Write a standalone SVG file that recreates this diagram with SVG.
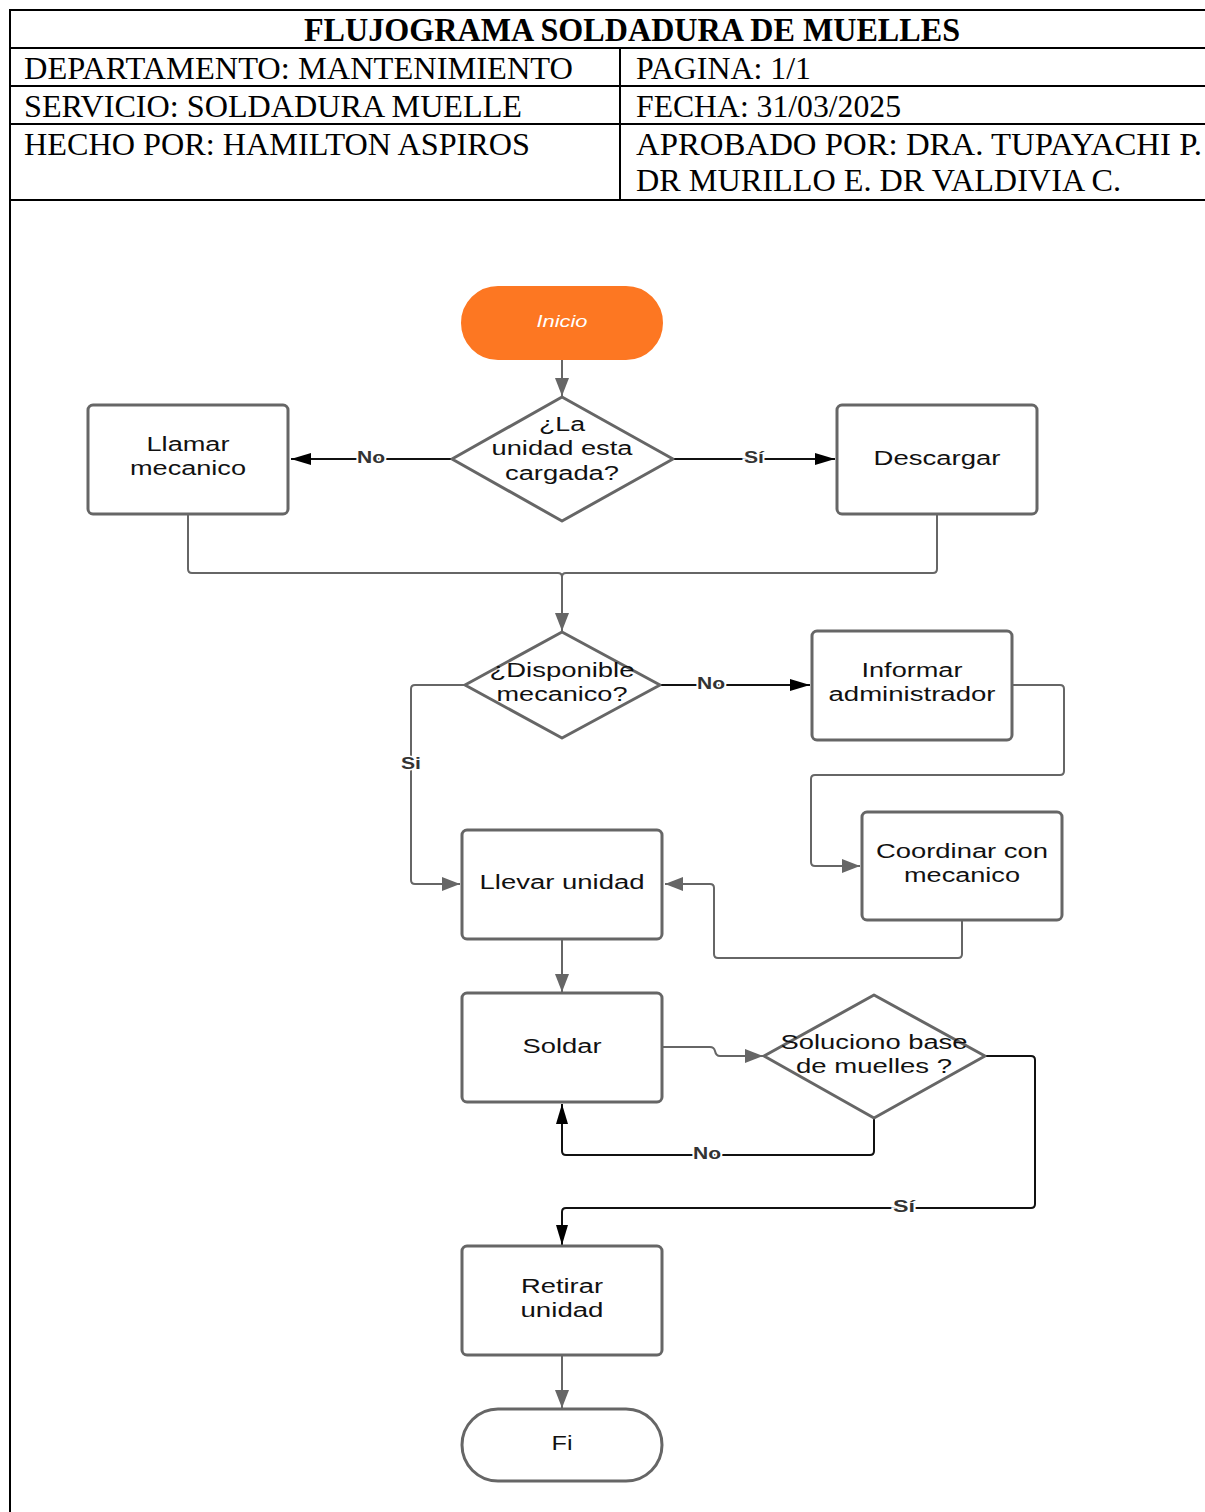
<svg xmlns="http://www.w3.org/2000/svg" width="1205" height="1512" viewBox="0 0 1205 1512">
<style>
.hdr{font-family:"Liberation Serif","Times New Roman",serif;font-size:32px;fill:#000}
.ttl{font-family:"Liberation Serif","Times New Roman",serif;font-size:33px;font-weight:bold;fill:#000}
.tbl{stroke:#000;stroke-width:2;fill:none}
.node{fill:#fff;stroke:#666;stroke-width:3}
.nt{font-family:"Liberation Sans",Arial,sans-serif;font-size:20px;fill:#111;text-anchor:middle}
.c{fill:none;stroke:#666;stroke-width:2}
.cb{fill:none;stroke:#111;stroke-width:2}
.lbl{font-family:"Liberation Sans",Arial,sans-serif;font-size:16px;font-weight:bold;fill:#333;text-anchor:middle;stroke:#fff;stroke-width:3;paint-order:stroke}
</style>
<defs>
<marker id="ag" markerUnits="userSpaceOnUse" markerWidth="20" markerHeight="16" refX="18" refY="8" orient="auto"><path d="M0,1 L18,8 L0,15 Z" fill="#666"/></marker>
<marker id="ab" markerUnits="userSpaceOnUse" markerWidth="22" markerHeight="16" refX="20" refY="8" orient="auto"><path d="M0,2 L20,8 L0,14 Z" fill="#000"/></marker>
</defs>
<rect width="1205" height="1512" fill="#fff"/>
<g id="header">
<line class="tbl" x1="10" y1="10" x2="1205" y2="10"/>
<line class="tbl" x1="10" y1="48" x2="1205" y2="48"/>
<line class="tbl" x1="10" y1="86" x2="1205" y2="86"/>
<line class="tbl" x1="10" y1="124" x2="1205" y2="124"/>
<line class="tbl" x1="10" y1="200" x2="1205" y2="200"/>
<line class="tbl" x1="10" y1="9" x2="10" y2="1512"/>
<line class="tbl" x1="620" y1="48" x2="620" y2="200"/>
<text class="ttl" x="304" y="41" textLength="656" lengthAdjust="spacingAndGlyphs">FLUJOGRAMA SOLDADURA DE MUELLES</text>
<text class="hdr" x="24" y="79" textLength="549" lengthAdjust="spacingAndGlyphs">DEPARTAMENTO: MANTENIMIENTO</text>
<text class="hdr" x="636" y="79" textLength="175" lengthAdjust="spacingAndGlyphs">PAGINA: 1/1</text>
<text class="hdr" x="24" y="117" textLength="498" lengthAdjust="spacingAndGlyphs">SERVICIO: SOLDADURA MUELLE</text>
<text class="hdr" x="636" y="117" textLength="265" lengthAdjust="spacingAndGlyphs">FECHA: 31/03/2025</text>
<text class="hdr" x="24" y="155" textLength="506" lengthAdjust="spacingAndGlyphs">HECHO POR: HAMILTON ASPIROS</text>
<text class="hdr" x="636" y="155" textLength="566" lengthAdjust="spacingAndGlyphs">APROBADO POR: DRA. TUPAYACHI P.</text>
<text class="hdr" x="636" y="191" textLength="485" lengthAdjust="spacingAndGlyphs">DR MURILLO E. DR VALDIVIA C.</text>
</g>
<g id="connectors">
<path class="c" d="M562,359 V396" marker-end="url(#ag)"/>
<path class="cb" d="M452,459 H291" marker-end="url(#ab)"/>
<path class="cb" d="M673,459 H835" marker-end="url(#ab)"/>
<path class="c" d="M188,514 V569 Q188,573 192,573 H558 Q562,573 562,577 V631" marker-end="url(#ag)"/>
<path class="c" d="M937,514 V569 Q937,573 933,573 H566 Q562,573 562,577"/>
<path class="cb" d="M660,685 H810" marker-end="url(#ab)"/>
<path class="c" d="M1012,685 H1060 Q1064,685 1064,689 V771 Q1064,775 1060,775 H815 Q811,775 811,779 V862 Q811,866 815,866 H860" marker-end="url(#ag)"/>
<path class="c" d="M962,920 V954 Q962,958 958,958 H718 Q714,958 714,954 V888 Q714,884 710,884 H665" marker-end="url(#ag)"/>
<path class="c" d="M465,685 H415 Q411,685 411,689 V880 Q411,884 415,884 H460" marker-end="url(#ag)"/>
<path class="c" d="M562,939 V992" marker-end="url(#ag)"/>
<path class="c" d="M662,1047 H710 Q714,1047 715,1051 Q716,1056 720,1056 H763" marker-end="url(#ag)"/>
<path class="cb" d="M874,1118 V1151 Q874,1155 870,1155 H566 Q562,1155 562,1151 V1104" marker-end="url(#ab)"/>
<path class="cb" d="M985,1056 H1031 Q1035,1056 1035,1060 V1204 Q1035,1208 1031,1208 H566 Q562,1208 562,1212 V1245" marker-end="url(#ab)"/>
<path class="c" d="M562,1355 V1408" marker-end="url(#ag)"/>
<text class="lbl" x="371" y="463" textLength="28" lengthAdjust="spacingAndGlyphs">No</text>
<text class="lbl" x="754" y="463" textLength="20" lengthAdjust="spacingAndGlyphs">Sí</text>
<text class="lbl" x="711" y="689" textLength="28" lengthAdjust="spacingAndGlyphs">No</text>
<text class="lbl" x="411" y="769" textLength="20" lengthAdjust="spacingAndGlyphs">Si</text>
<text class="lbl" x="707" y="1159" textLength="28" lengthAdjust="spacingAndGlyphs">No</text>
<text class="lbl" x="904" y="1212" textLength="22" lengthAdjust="spacingAndGlyphs">Sí</text>
</g>
<g id="inicio">
<rect x="462" y="287" width="200" height="72" rx="36" fill="#FD7722" stroke="#FD7722" stroke-width="2"/>
<text class="nt" x="562" y="327" font-style="italic" style="fill:#fff;font-size:17px" textLength="51" lengthAdjust="spacingAndGlyphs">Inicio</text>
</g>
<g id="d1">
<path class="node" d="M562,397 L673,459 L562,521 L452,459 Z" stroke-linejoin="round"/>
<text class="nt" x="562" y="431" textLength="46" lengthAdjust="spacingAndGlyphs">¿La</text>
<text class="nt" x="562" y="455" textLength="141" lengthAdjust="spacingAndGlyphs">unidad esta</text>
<text class="nt" x="562" y="480" textLength="114" lengthAdjust="spacingAndGlyphs">cargada?</text>
</g>
<g id="llamar">
<rect class="node" x="88" y="405" width="200" height="109" rx="5"/>
<text class="nt" x="188" y="451" textLength="83" lengthAdjust="spacingAndGlyphs">Llamar</text>
<text class="nt" x="188" y="475" textLength="116" lengthAdjust="spacingAndGlyphs">mecanico</text>
</g>
<g id="descargar">
<rect class="node" x="837" y="405" width="200" height="109" rx="5"/>
<text class="nt" x="937" y="465" textLength="127" lengthAdjust="spacingAndGlyphs">Descargar</text>
</g>
<g id="d2">
<path class="node" d="M562,632 L660,685 L562,738 L465,685 Z" stroke-linejoin="round"/>
<text class="nt" x="562" y="677" textLength="145" lengthAdjust="spacingAndGlyphs">¿Disponible</text>
<text class="nt" x="562" y="701" textLength="131" lengthAdjust="spacingAndGlyphs">mecanico?</text>
</g>
<g id="informar">
<rect class="node" x="812" y="631" width="200" height="109" rx="5"/>
<text class="nt" x="912" y="677" textLength="101" lengthAdjust="spacingAndGlyphs">Informar</text>
<text class="nt" x="912" y="701" textLength="167" lengthAdjust="spacingAndGlyphs">administrador</text>
</g>
<g id="coordinar">
<rect class="node" x="862" y="812" width="200" height="108" rx="5"/>
<text class="nt" x="962" y="858" textLength="172" lengthAdjust="spacingAndGlyphs">Coordinar con</text>
<text class="nt" x="962" y="882" textLength="116" lengthAdjust="spacingAndGlyphs">mecanico</text>
</g>
<g id="llevar">
<rect class="node" x="462" y="830" width="200" height="109" rx="5"/>
<text class="nt" x="562" y="889" textLength="165" lengthAdjust="spacingAndGlyphs">Llevar unidad</text>
</g>
<g id="soldar">
<rect class="node" x="462" y="993" width="200" height="109" rx="5"/>
<text class="nt" x="562" y="1053" textLength="79" lengthAdjust="spacingAndGlyphs">Soldar</text>
</g>
<g id="d3">
<path class="node" d="M874,995 L985,1056 L874,1118 L764,1056 Z" stroke-linejoin="round"/>
<text class="nt" x="874" y="1049" textLength="187" lengthAdjust="spacingAndGlyphs">Soluciono base</text>
<text class="nt" x="874" y="1073" textLength="156" lengthAdjust="spacingAndGlyphs">de muelles ?</text>
</g>
<g id="retirar">
<rect class="node" x="462" y="1246" width="200" height="109" rx="5"/>
<text class="nt" x="562" y="1293" textLength="82" lengthAdjust="spacingAndGlyphs">Retirar</text>
<text class="nt" x="562" y="1317" textLength="83" lengthAdjust="spacingAndGlyphs">unidad</text>
</g>
<g id="fin">
<rect class="node" x="462" y="1409" width="200" height="72" rx="36"/>
<text class="nt" x="562" y="1450" textLength="21" lengthAdjust="spacingAndGlyphs">Fi</text>
</g>
</svg>
